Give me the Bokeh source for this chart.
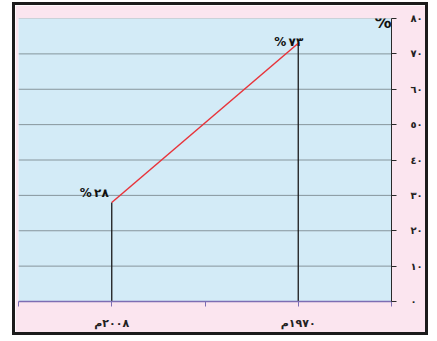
from bokeh.plotting import figure
from bokeh.models import FixedTicker, LinearAxis, ColumnDataSource, Label, Range1d
from bokeh.core.properties import value
from bokeh.embed import file_html
from bokeh.resources import INLINE

# data
years = ["٢٠٠٨م", "١٩٧٠م"]
positions = [1, 3]
percents = [28, 73]
point_labels = ["%\u2009٢٨", "%\u2009٧٣"]
y_ticks = [0, 10, 20, 30, 40, 50, 60, 70, 80]
y_tick_labels = ["٠", "١٠", "٢٠", "٣٠", "٤٠", "٥٠", "٦٠", "٧٠", "٨٠"]
x_ticks = [0, 1, 2, 3, 4]

FONT = "DejaVu Sans"

p = figure(width=410, height=327, output_backend="svg", toolbar_location=None,
           x_range=Range1d(0, 4), y_range=Range1d(0, 80),
           x_axis_location=None, y_axis_location=None,
           min_border_left=3, min_border_right=33, min_border_top=13, min_border_bottom=29)
p.styles = {"margin-left": "15px", "margin-top": "5px",
            "outline": "3px solid #1b1b1b", "outline-offset": "0px"}
p.background_fill_color = "#d3ebf7"
p.border_fill_color = "#fbe5ef"
p.outline_line_color = None
p.xgrid.visible = False
p.ygrid.visible = False

# horizontal grid lines
for v in y_ticks[1:]:
    p.segment(x0=0, x1=4, y0=v, y1=v, line_color="#aab6bc" if v == 80 else "#86959c", line_width=1)

# right y axis
yax = LinearAxis(ticker=FixedTicker(ticks=y_ticks))
yax.major_label_overrides = {t: l for t, l in zip(y_ticks, y_tick_labels)}
yax.axis_line_color = "#2a2a2a"
yax.major_tick_line_color = "#2a2a2a"
yax.major_tick_in = 0
yax.major_tick_out = 5
yax.minor_tick_line_color = None
yax.major_label_standoff = 14
yax.major_label_text_font = FONT
yax.major_label_text_font_style = "bold"
yax.major_label_text_font_size = "10px"
yax.major_label_text_color = "#222222"
p.add_layout(yax, "right")

# bottom x axis
xax = LinearAxis(ticker=FixedTicker(ticks=x_ticks))
xax.major_label_overrides = {0: "", 1: years[0], 2: "", 3: years[1], 4: ""}
xax.axis_line_color = "#7d6eb3"
xax.axis_line_width = 1.5
xax.major_tick_line_color = "#7d6eb3"
xax.major_tick_in = 0
xax.major_tick_out = 5
xax.minor_tick_line_color = None
xax.major_label_standoff = 10
xax.major_label_text_font = FONT
xax.major_label_text_font_style = "bold"
xax.major_label_text_font_size = "11px"
xax.major_label_text_color = "#222222"
p.add_layout(xax, "below")

src = ColumnDataSource(dict(x=positions, y=percents, zero=[0, 0], lab=point_labels))
p.segment(x0="x", x1="x", y0="zero", y1="y", source=src, line_color="#1a1a1a", line_width=1.3)
p.line(x="x", y="y", source=src, line_color="#e8333a", line_width=1.5)

p.text(x=[positions[0]], y=[percents[0]], text=[point_labels[0]], text_align="right",
       text_baseline="middle", x_offset=-3, y_offset=-9, text_font=value(FONT),
       text_font_style="bold", text_font_size="12px", text_color="#111111")
p.text(x=[positions[1]], y=[percents[1]], text=[point_labels[1]], text_align="right",
       text_baseline="middle", x_offset=5, y_offset=-1, text_font=value(FONT),
       text_font_style="bold", text_font_size="12px", text_color="#111111")

p.add_layout(Label(x=4, y=80, text="%", text_align="right", text_baseline="middle",
                   x_offset=0, y_offset=-3, text_font=FONT, text_font_style="bold",
                   text_font_size="17px", text_color="#111111"))

open("out.html", "w").write(file_html(p, INLINE))
